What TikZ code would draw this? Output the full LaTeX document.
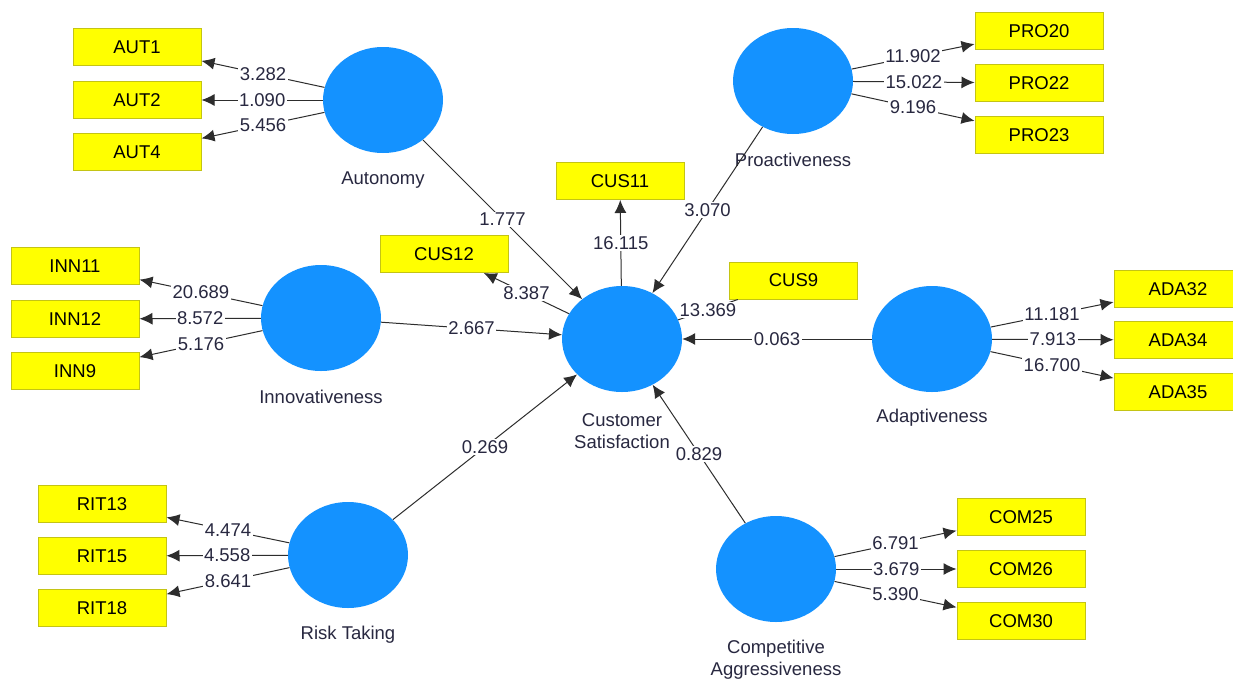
\documentclass[tikz,border=0pt]{standalone}
\usepackage{fontspec}
\setmainfont{Liberation Sans}
\usetikzlibrary{shapes.geometric,arrows.meta}

\definecolor{bleuvl}{RGB}{20,146,255}
\definecolor{jaune}{RGB}{255,255,0}
\definecolor{bordjaune}{RGB}{196,196,20}
\definecolor{trait}{RGB}{45,45,45}
\definecolor{texte}{RGB}{40,40,64}

\newcommand{\police}{\fontsize{18.5}{22}\selectfont}

\begin{document}
\begin{tikzpicture}[x=1pt,y=-1pt,
  vl/.style={ellipse, fill=bleuvl, minimum width=120pt, minimum height=106pt, inner sep=0pt},
  ind/.style={rectangle, fill=jaune, draw=bordjaune, line width=1pt, minimum width=128pt, minimum height=37pt, inner sep=0pt, font=\police},
  nom/.style={font=\police, text=texte, align=center, inner sep=0pt},
  fleche/.style={draw=trait, line width=1pt, -{Latex[length=13pt,width=12pt]}},
  coef/.style={fill=white, font=\police, text=texte, inner sep=1.5pt}]

%%%%%%%%%%%%%%%%%%%%%%
%%%	    Cadre       %%%
%%%%%%%%%%%%%%%%%%%%%%

\useasboundingbox[fill=white] (0,0) rectangle (1233,680);

%%%%%%%%%%%%%%%%%%%%%%
%%%	 Var. latentes  %%%
%%%%%%%%%%%%%%%%%%%%%%

\node[vl] (aut) at (383,100) {};
\node[vl] (inn) at (321,318) {};
\node[vl] (cs)  at (622,339) {};
\node[vl] (pro) at (793,81)  {};
\node[vl] (ada) at (932,339) {};
\node[vl] (rit) at (348,555) {};
\node[vl] (com) at (776,569) {};

\node[nom] (autL) at ([yshift=-27pt]aut.south) {Autonomy};
\node[nom] (innL) at ([yshift=-26pt]inn.south) {Innovativeness};
\node[nom] (csL)  at ([yshift=-39pt]cs.south)  {Customer\\Satisfaction};
\node[nom] (proL) at ([yshift=-26pt]pro.south) {Proactiveness};
\node[nom] (adaL) at ([yshift=-26pt]ada.south) {Adaptiveness};
\node[nom] (ritL) at ([yshift=-27pt]rit.south) {Risk Taking};
\node[nom] (comL) at ([yshift=-38pt]com.south) {Competitive\\Aggressiveness};

%%%%%%%%%%%%%%%%%%%%%%
%%%	  Indicateurs   %%%
%%%%%%%%%%%%%%%%%%%%%%

\node[ind] (aut1) at (137,47)  {AUT1};
\node[ind] (aut2) at (137,100) {AUT2};
\node[ind] (aut4) at (137,152) {AUT4};

\node[ind] (inn11) at (75,266) {INN11};
\node[ind] (inn12) at (75,319) {INN12};
\node[ind] (inn9)  at (75,371) {INN9};

\node[ind] (pro20) at (1039,31)  {PRO20};
\node[ind] (pro22) at (1039,83)  {PRO22};
\node[ind] (pro23) at (1039,135) {PRO23};

\node[ind] (ada32) at (1178,289) {ADA32};
\node[ind] (ada34) at (1178,340) {ADA34};
\node[ind] (ada35) at (1178,392) {ADA35};

\node[ind] (rit13) at (102,504) {RIT13};
\node[ind] (rit15) at (102,556) {RIT15};
\node[ind] (rit18) at (102,608) {RIT18};

\node[ind] (com25) at (1021,517) {COM25};
\node[ind] (com26) at (1021,569) {COM26};
\node[ind] (com30) at (1021,621) {COM30};

\node[ind] (cus11) at (620,181)   {CUS11};
\node[ind] (cus12) at (444,254)   {CUS12};
\node[ind] (cus9)  at (793.5,280.5) {CUS9};

%%%%%%%%%%%%%%%%%%%%%%
%%%	  Chargements   %%%
%%%%%%%%%%%%%%%%%%%%%%

% On dessine les fleches vers les indicateurs
\draw[fleche] (aut) -- node[coef] (c1) {3.282} (aut1);
\draw[fleche] (aut) -- node[coef] (c2) {1.090} (aut2);
\draw[fleche] (aut) -- node[coef] (c3) {5.456} (aut4);

\draw[fleche] (inn) -- node[coef] (c4) {20.689} (inn11);
\draw[fleche] (inn) -- node[coef] (c5) {8.572} (inn12);
\draw[fleche] (inn) -- node[coef] (c6) {5.176} (inn9);

\draw[fleche] (pro) -- node[coef] (c7) {11.902} (pro20);
\draw[fleche] (pro) -- node[coef] (c8) {15.022} (pro22);
\draw[fleche] (pro) -- node[coef] (c9) {9.196} (pro23);

\draw[fleche] (ada) -- node[coef] (c10) {11.181} (ada32);
\draw[fleche] (ada) -- node[coef] (c11) {7.913} (ada34);
\draw[fleche] (ada) -- node[coef] (c12) {16.700} (ada35);

\draw[fleche] (rit) -- node[coef] (c13) {4.474} (rit13);
\draw[fleche] (rit) -- node[coef] (c14) {4.558} (rit15);
\draw[fleche] (rit) -- node[coef] (c15) {8.641} (rit18);

\draw[fleche] (com) -- node[coef] (c16) {6.791} (com25);
\draw[fleche] (com) -- node[coef] (c17) {3.679} (com26);
\draw[fleche] (com) -- node[coef] (c18) {5.390} (com30);

\draw[fleche] (cs) -- node[coef] (c19) {16.115} (cus11);
\draw[fleche] (cs) -- node[coef] (c20) {8.387} (cus12);
\draw[draw=trait, line width=1pt] (cs) -- node[coef] (c21) {13.369} (cus9);

%%%%%%%%%%%%%%%%%%%%%%
%%%	  Structurel    %%%
%%%%%%%%%%%%%%%%%%%%%%

% On dessine les chemins vers la satisfaction
\draw[fleche] (aut) -- node[coef] (s1) {1.777} (cs);
\draw[fleche] (inn) -- node[coef] (s2) {2.667} (cs);
\draw[fleche] (pro) -- node[coef] (s3) {3.070} (cs);
\draw[fleche] (ada) -- node[coef] (s4) {0.063} (cs);
\draw[fleche] (rit) -- node[coef] (s5) {0.269} (cs);
\draw[fleche] (com) -- node[coef] (s6) {0.829} (cs);

%%%%%%%%%%%%%%%%%%%%%%%%%%%%%%%%%%%%%%%%%

\end{tikzpicture}
\end{document}
